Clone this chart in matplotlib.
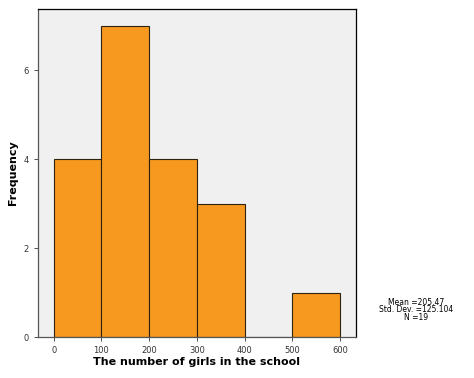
import matplotlib
matplotlib.use("Agg")
import matplotlib.pyplot as plt

# histogram of girls per school
bin_edges = [0, 100, 200, 300, 400, 500, 600]
counts = [4, 7, 4, 3, 0, 1]
stats_text = "Mean =205.47\nStd. Dev. =125.104\nN =19"

fig = plt.figure(figsize=(4.74, 3.78), dpi=100)
ax = fig.add_axes([0.080, 0.108, 0.671, 0.868])
ax.set_facecolor("#f0f0f0")

ax.bar(bin_edges[:-1], counts, width=100, align="edge",
       color="#f7991f", edgecolor="#2e2210", linewidth=0.8)

ax.set_xlim(-33, 633)
ax.set_ylim(0, 7.37)
ax.set_xticks(bin_edges)
ax.set_yticks([0, 2, 4, 6])
ax.tick_params(labelsize=6, colors="#333333", length=3, width=0.6)

for s in ["left", "bottom"]:
    ax.spines[s].set_color("#555555")
for s in ["top", "right"]:
    ax.spines[s].set_color("black")
for s in ax.spines.values():
    s.set_linewidth(0.9)

ax.set_xlabel("The number of girls in the school", fontsize=8, fontweight="bold", labelpad=1)
ax.set_ylabel("Frequency", fontsize=8, fontweight="bold", labelpad=4)

fig.text(0.878, 0.18, stats_text, fontsize=5.5, ha="center", va="center", linespacing=0.85)

fig.savefig("out.png", dpi=100)
